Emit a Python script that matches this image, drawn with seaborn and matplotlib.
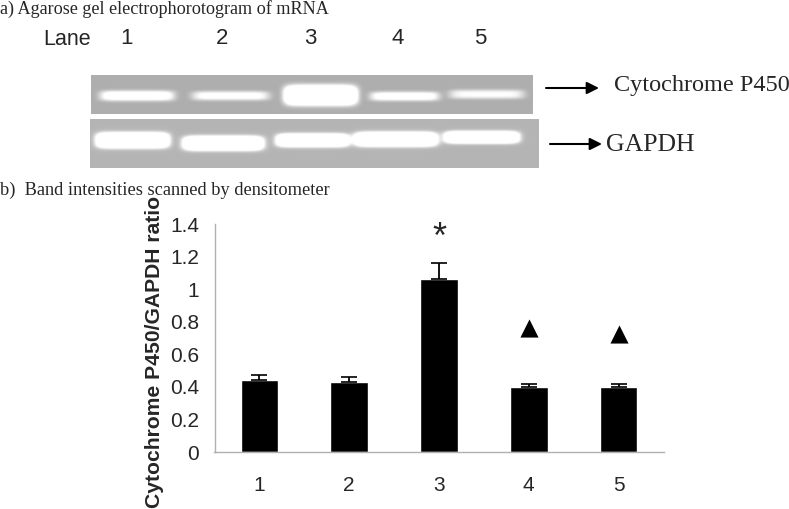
''' Gel electrophorogram and densitometer bar chart '''

import matplotlib.pyplot as plt
import numpy as np
import pandas as pd
import seaborn as sns

W, H = 789, 509

lanes = ["1", "2", "3", "4", "5"]
ratio = [0.44, 0.43, 1.06, 0.40, 0.40]
ratio_err = [0.03, 0.03, 0.10, 0.02, 0.02]
y_ticks = [0, 0.2, 0.4, 0.6, 0.8, 1, 1.2, 1.4]
y_tick_labels = ["0", "0.2", "0.4", "0.6", "0.8", "1", "1.2", "1.4"]
triangle_lanes = [3, 4]
triangle_y = [0.76, 0.725]
star_lane = 2
star_y = 1.31

# bandas do gel: x0, x1, y centro, altura, brilho (pixels da imagem)
p450_bands = [(100, 174, 95.5, 8, 1.15), (192, 269, 95.5, 7, 1.05), (285, 356, 95, 16, 1.9),
              (370, 439, 96, 7, 1.1), (449, 524, 94, 7, 1.0)]
gapdh_bands = [(97, 168, 140, 12, 1.9), (184, 262, 143, 11, 1.9), (277, 348, 140, 10, 1.8),
               (355, 436, 139, 11, 1.9), (445, 518, 137, 9, 1.8)]
lane_label_x = [127, 222, 310, 398, 480]


def draw_gel(ax, box, bands, background):
    ''' Desenha uma faixa do gel como imagem em tons de cinza '''
    x0, x1, y0, y1 = box
    xs, ys = np.meshgrid(np.arange(x0, x1, 0.5), np.arange(y0, y1, 0.5))
    img = np.full(xs.shape, background)
    for bx0, bx1, yc, height, bright in bands:
        glow = np.exp(-np.abs((xs - (bx0 + bx1) / 2) / ((bx1 - bx0) / 2)) ** 8
                      - np.abs((ys - yc) / (height / 2 + 1)) ** 3)
        img = img + (bright - background) * glow
    ax.imshow(np.clip(img, 0, 1), extent=(x0, x1, y1, y0), cmap="gray", vmin=0, vmax=1,
              interpolation="bilinear", aspect="auto", zorder=1)


def draw_top(fig):
    ''' Painel a) e textos em coordenadas de pixel '''
    ax = fig.add_axes([0, 0, 1, 1])
    ax.axis("off")
    draw_gel(ax, (91, 533, 75, 114), p450_bands, 0.68)
    draw_gel(ax, (90, 539, 119, 168), gapdh_bands, 0.71)
    ax.set_xlim(0, W)
    ax.set_ylim(H, 0)

    serif = "Liberation Serif"
    ax.text(0, 9, "a) Agarose gel electrophorotogram of mRNA", family=serif, fontsize=13.1, va="center")
    ax.text(0, 190, "b)  Band intensities scanned by densitometer", family=serif, fontsize=13.2, va="center")
    ax.text(614, 85, "Cytochrome P450", family=serif, fontsize=17.5, va="center")
    ax.text(606, 145, "GAPDH", family=serif, fontsize=18.5, va="center")

    ax.text(43, 39, "Lane", family="Liberation Sans", fontsize=15.5, va="center")
    for x, label in zip(lane_label_x, lanes):
        ax.text(x, 38, label, family="Liberation Sans", fontsize=16, va="center", ha="center")

    for x0, x1, y in [(546, 599, 88), (550, 602, 144)]:
        ax.annotate("", xy=(x1, y), xytext=(x0, y),
                    arrowprops=dict(arrowstyle="-|>", color="black", lw=1.5, mutation_scale=18, shrinkA=0, shrinkB=0))


def draw_bars(fig):
    ''' Painel b) barras com erro '''
    ax = fig.add_axes([214.5 / W, 1 - 452 / H, 449 / W, 228 / H])
    ax.patch.set_alpha(0)
    data = pd.DataFrame({"lane": lanes, "ratio": ratio})
    sns.barplot(data=data, x="lane", y="ratio", color="black", saturation=1, width=0.42, ax=ax)
    ax.errorbar(range(len(lanes)), ratio, yerr=[np.zeros(len(lanes)), ratio_err], fmt="none",
                ecolor="black", elinewidth=1.3, capsize=6, capthick=1.2)
    ax.scatter(triangle_lanes, triangle_y, marker="^", s=170, color="black", linewidths=0)
    ax.text(star_lane, star_y, "*", fontsize=26, ha="center", va="center", family="Liberation Sans")

    ax.set_xlim(-0.5, 4.5)
    ax.set_ylim(0, 1.4)
    ax.set_yticks(y_ticks, y_tick_labels)
    ax.set_xticks(range(len(lanes)), lanes)
    ax.set_xticks(np.arange(-0.5, 5), minor=True)
    ax.tick_params(axis="x", which="major", length=0, labelsize=15, pad=17)
    ax.tick_params(axis="x", which="minor", length=5, color="#b0b0b0", width=1)
    ax.tick_params(axis="y", length=5, color="#b0b0b0", width=1, labelsize=15, pad=6)
    sns.despine(ax=ax)
    for side in ["left", "bottom"]:
        ax.spines[side].set_color("#b0b0b0")
        ax.spines[side].set_linewidth(1)
    ax.set_xlabel("")
    ax.set_ylabel("")
    fig.text(155 / W, 1 - 352 / H, "Cytochrome P450/GAPDH ratio", rotation=90, fontsize=15.2,
             fontweight="bold", ha="center", va="center")


def main():
    sns.set_theme(style="white")
    plt.rcParams["font.family"] = ["Liberation Sans", "DejaVu Sans"]
    fig = plt.figure(figsize=(W / 100, H / 100), dpi=100)
    draw_top(fig)
    draw_bars(fig)
    fig.savefig("out.png", dpi=100)


if __name__ == "__main__":
    main()
